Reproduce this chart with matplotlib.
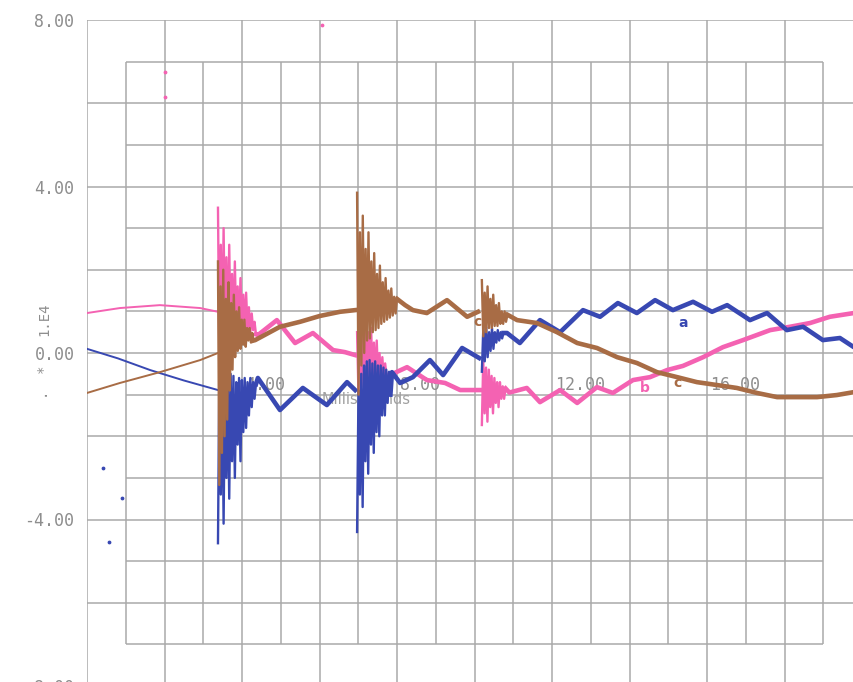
import numpy as np
import matplotlib
matplotlib.use("Agg")
import matplotlib.pyplot as plt
from matplotlib.transforms import offset_copy

# --- data: time in milliseconds, values in units of 1.E4 ---
burst_t0 = [3.38, 6.97, 10.19]

# phase a (blue)
a_pre_t = [0.0, 0.8, 1.63, 2.5, 3.38]
a_pre_v = [0.10, -0.13, -0.41, -0.66, -0.89]
a_b1_end = 4.36
a_b1_v = [-4.57, -0.3, -3.4, -0.5, -4.1, -0.45, -3.0, -0.6, -3.5, -0.5, -2.6, -0.55, -3.0, -0.7,
          -2.2, -0.6, -2.6, -0.65, -1.9, -0.6, -1.8, -0.7, -1.5, -0.6, -1.3, -0.7, -1.1, -0.75]
a_p1_t = [4.41, 4.98, 5.57, 6.19, 6.71, 6.92]
a_p1_v = [-0.60, -1.37, -0.84, -1.25, -0.70, -0.89]
a_b2_end = 7.83
a_b2_v = [-4.30, -0.9, -3.4, -0.5, -3.7, -0.3, -2.6, -0.2, -2.9, -0.17, -2.2, -0.25, -2.4,
          -0.2, -1.9, -0.3, -2.0, -0.3, -1.5, -0.35, -1.5, -0.4, -1.2, -0.45, -1.0]
a_p2_t = [7.87, 8.08, 8.41, 8.85, 9.19, 9.68, 10.12]
a_p2_v = [-0.46, -0.72, -0.58, -0.17, -0.53, 0.12, -0.12]
a_b3_end = 10.75
a_b3_v = [-0.45, 0.6, -0.2, 0.62, -0.1, 0.5, 0.05, 0.6, 0.1, 0.5, 0.25, 0.55, 0.3, 0.5, 0.35, 0.48]
a_p3_t = [10.84, 11.17, 11.69, 12.21, 12.80, 13.24, 13.70, 14.19, 14.66, 15.12, 15.64,
          16.13, 16.52, 17.11, 17.55, 18.06, 18.48, 18.99, 19.43, 19.79, 20.0]
a_p3_v = [0.48, 0.24, 0.79, 0.50, 1.03, 0.87, 1.20, 0.96, 1.27, 1.03, 1.23,
          0.99, 1.15, 0.79, 0.96, 0.55, 0.63, 0.31, 0.36, 0.14, 0.10]

# phase b (pink)
b_pre_t = [0.0, 0.85, 1.88, 2.92, 3.38]
b_pre_v = [0.96, 1.08, 1.15, 1.08, 0.99]
b_b1_end = 4.36
b_b1_v = [3.49, -0.2, 2.6, 0.1, 3.0, 0.3, 2.3, 0.2, 2.6, 0.4, 1.9, 0.35, 2.2, 0.5,
          1.6, 0.45, 1.8, 0.6, 1.4, 0.5, 1.45, 0.6, 1.1, 0.5, 0.95, 0.55, 0.75, 0.45]
b_p1_t = [4.41, 4.90, 5.37, 5.83, 6.35, 6.66, 6.92]
b_p1_v = [0.43, 0.79, 0.24, 0.48, 0.07, 0.02, -0.05]
b_b2_end = 7.73
b_b2_v = [0.5, -1.0, 1.0, -0.8, 0.7, -0.75, 0.9, -0.6, 0.5, -0.7, 0.6,
          -0.65, 0.25, -0.7, 0.3, -0.6, 0.0, -0.65, -0.1, -0.6, -0.25, -0.55]
b_p2_t = [7.82, 8.26, 8.77, 9.24, 9.63, 10.14]
b_p2_v = [-0.53, -0.34, -0.65, -0.72, -0.89, -0.89]
b_b3_end = 10.80
b_b3_v = [-1.73, -0.17, -1.45, -0.35, -1.65, -0.4, -1.3, -0.55, -1.45,
          -0.6, -1.2, -0.7, -1.3, -0.7, -1.1, -0.8, -1.1, -0.85]
b_p3_t = [10.90, 11.35, 11.69, 12.21, 12.65, 13.16, 13.57, 14.09, 14.53, 14.97,
          15.38, 15.90, 16.41, 16.93, 17.63, 18.14, 18.66, 19.17, 19.79, 20.0]
b_p3_v = [-0.95, -0.84, -1.18, -0.89, -1.20, -0.82, -0.96, -0.65, -0.58, -0.41,
          -0.31, -0.10, 0.14, 0.31, 0.55, 0.63, 0.72, 0.87, 0.96, 0.98]

# phase c (brown)
c_pre_t = [0.0, 0.85, 1.88, 2.92, 3.38]
c_pre_v = [-0.96, -0.72, -0.46, -0.17, 0.0]
c_b1_end = 4.30
c_b1_v = [2.2, -3.17, 1.6, -2.4, 2.0, -2.0, 1.3, -1.6, 1.7, -0.9, 1.2, -0.4, 1.4, -0.1,
          1.0, 0.05, 1.1, 0.1, 0.8, 0.2, 0.8, 0.15, 0.6, 0.3, 0.6, 0.25, 0.48, 0.3]
c_p1_t = [4.34, 4.98, 5.50, 6.01, 6.53, 6.92]
c_p1_v = [0.31, 0.63, 0.75, 0.89, 0.99, 1.03]
c_b2_end = 8.0
c_b2_v = [3.85, -1.0, 2.9, -0.3, 3.3, 0.0, 2.5, 0.3, 2.9, 0.35, 2.2, 0.5, 2.4, 0.55, 1.9,
          0.6, 2.1, 0.7, 1.7, 0.75, 1.8, 0.8, 1.5, 0.85, 1.55, 0.9, 1.35, 0.95, 1.3]
c_p2_t = [8.21, 8.41, 8.77, 9.29, 9.81, 10.09]
c_p2_v = [1.15, 1.03, 0.96, 1.27, 0.87, 0.99]
c_b3_end = 10.85
c_b3_v = [1.75, 0.4, 1.45, 0.5, 1.6, 0.6, 1.3, 0.6, 1.4, 0.65, 1.15, 0.65, 1.2,
          0.7, 1.0, 0.7, 1.0, 0.75, 0.92]
c_p3_t = [11.10, 11.61, 12.13, 12.65, 13.16, 13.68, 14.19, 14.71, 15.23, 15.74,
          16.26, 16.77, 17.29, 17.81, 18.32, 18.84, 19.35, 19.79, 20.0]
c_p3_v = [0.79, 0.72, 0.50, 0.24, 0.12, -0.10, -0.24, -0.46, -0.58, -0.70,
          -0.77, -0.84, -0.96, -1.06, -1.06, -1.06, -1.01, -0.94, -0.92]

# stray marks on the scanned sheet
pink_dots_t = [2.01, 2.01, 6.06]
pink_dots_v = [6.75, 6.15, 7.88]
blue_dots_t = [0.41, 0.90, 0.57]
blue_dots_v = [-2.76, -3.49, -4.54]

x_labels = [4, 8, 12, 16]
y_labels = [8, 4, 0, -4, -8]

BLUE = "#3848b2"
PINK = "#f462b2"
BROWN = "#a86c45"
GRID = "#a9a9a9"
TEXT = "#8e8e8e"

fig = plt.figure(figsize=(8.54, 6.82), dpi=100)
# axes run past the right and bottom edge of the sheet, like the scan
ax = fig.add_axes([87 / 854, -4 / 682, 775 / 854, 666 / 682])
ax.set_xlim(0, 20)
ax.set_ylim(-8, 8)
for s in ax.spines.values():
    s.set_visible(False)

# outer grid
xg = np.arange(0, 21, 2)
yg = np.arange(-8, 9, 2)
ax.set_xticks(xg, labels=[""] * len(xg))
ax.set_yticks(yg, labels=[f"{v:.2f}" if v in y_labels else "" for v in yg])
ax.tick_params(length=0, pad=9, labelsize=12, labelcolor=TEXT)
for lab in ax.get_yticklabels():
    lab.set_family("DejaVu Sans Mono")
ax.grid(True, color=GRID, lw=1.1)
ax.set_axisbelow(True)

# inner (offset) grid printed over it
xi = np.arange(1, 20, 2)
yi = np.arange(-7, 8, 2)
ax.vlines(xi, yi[0], yi[-1], color=GRID, lw=1.1, zorder=0.5)
ax.hlines(yi, xi[0], xi[-1], color=GRID, lw=1.1, zorder=0.5)

# x tick labels sit just under the zero line, behind the traces
lab_tr = offset_copy(ax.transData, fig=fig, x=3, y=-32, units="dots")
for xv in x_labels:
    ax.text(xv, 0, f"{xv:.2f}", transform=lab_tr, ha="left", va="center",
            family="DejaVu Sans Mono", fontsize=12, color=TEXT, zorder=1)
ml_tr = offset_copy(ax.transData, fig=fig, x=0, y=-46, units="dots")
ax.text(7.2, 0, "Milliseconds", transform=ml_tr, ha="center", va="center",
        fontsize=10.5, color="#a0a0a0", zorder=1)

# scale note, printed vertically beside the zero label
fig.text(44 / 854, 1 - 319 / 682, "1.E4", rotation=90, ha="center", va="center",
         family="DejaVu Sans Mono", fontsize=10, color=TEXT)
fig.text(44 / 854, 1 - 382 / 682, ".  *", rotation=90, ha="center", va="center",
         family="DejaVu Sans Mono", fontsize=10, color=TEXT)


def draw_phase(color, pre_t, pre_v, bursts, posts):
    ax.plot(pre_t, pre_v, color=color, lw=1.4, zorder=3)
    for (t0, t1, vals), (pt, pv) in zip(bursts, posts):
        bt = np.linspace(t0, t1, len(vals))
        ax.plot(bt, vals, color=color, lw=1.7, zorder=3)
        ax.plot([bt[-1]] + pt, [vals[-1]] + pv, color=color, lw=3.3,
                solid_joinstyle="round", zorder=3)


draw_phase(PINK, b_pre_t, b_pre_v,
           [(burst_t0[0], b_b1_end, b_b1_v), (burst_t0[1], b_b2_end, b_b2_v),
            (burst_t0[2], b_b3_end, b_b3_v)],
           [(b_p1_t, b_p1_v), (b_p2_t, b_p2_v), (b_p3_t, b_p3_v)])
draw_phase(BLUE, a_pre_t, a_pre_v,
           [(burst_t0[0], a_b1_end, a_b1_v), (burst_t0[1], a_b2_end, a_b2_v),
            (burst_t0[2], a_b3_end, a_b3_v)],
           [(a_p1_t, a_p1_v), (a_p2_t, a_p2_v), (a_p3_t, a_p3_v)])
draw_phase(BROWN, c_pre_t, c_pre_v,
           [(burst_t0[0], c_b1_end, c_b1_v), (burst_t0[1], c_b2_end, c_b2_v),
            (burst_t0[2], c_b3_end, c_b3_v)],
           [(c_p1_t, c_p1_v), (c_p2_t, c_p2_v), (c_p3_t, c_p3_v)])

ax.scatter(pink_dots_t, pink_dots_v, s=3, color=PINK, zorder=3)
ax.scatter(blue_dots_t, blue_dots_v, s=3, color=BLUE, zorder=3)

# phase letters
ax.text(15.38, 0.72, "a", color=BLUE, fontsize=10, fontweight="bold", ha="center", va="center", zorder=4)
ax.text(14.40, -0.84, "b", color=PINK, fontsize=10, fontweight="bold", ha="center", va="center", zorder=4)
ax.text(15.23, -0.72, "c", color=BROWN, fontsize=10, fontweight="bold", ha="center", va="center", zorder=4)
ax.text(10.09, 0.75, "c", color=BROWN, fontsize=10, fontweight="bold", ha="center", va="center", zorder=2)

fig.savefig("out.png", dpi=100)
